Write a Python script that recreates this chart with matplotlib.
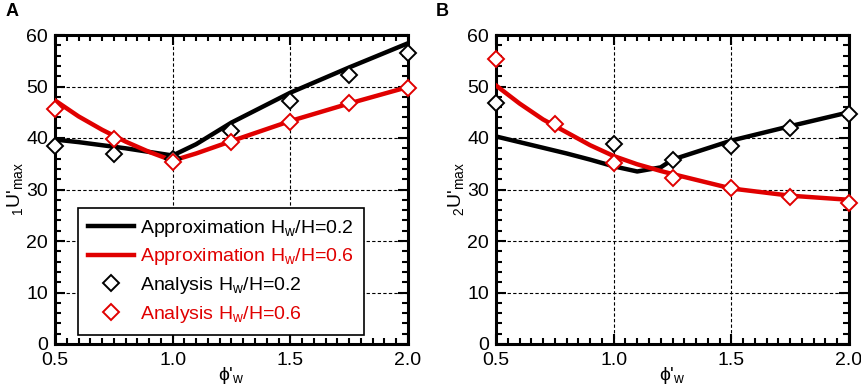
import matplotlib
matplotlib.use("Agg")
import matplotlib.pyplot as plt
from matplotlib.ticker import MultipleLocator

plt.rcParams['font.family'] = ['Liberation Sans', 'DejaVu Sans']
plt.rcParams['mathtext.fontset'] = 'custom'
plt.rcParams['mathtext.rm'] = 'Liberation Sans'
plt.rcParams['mathtext.it'] = 'Liberation Sans'

# panel A
a_line_x = [0.5, 0.6, 0.7, 0.8, 0.9, 1.0, 1.1, 1.25, 1.5, 1.75, 2.0]
a_black_line = [39.7, 39.2, 38.6, 38.0, 37.3, 36.6, 38.8, 43.0, 48.8, 53.7, 58.4]
a_red_line = [47.3, 44.2, 41.6, 39.3, 37.3, 35.6, 37.0, 39.4, 43.3, 46.7, 49.9]
a_pts_x = [0.5, 0.75, 1.0, 1.25, 1.5, 1.75, 2.0]
a_black_pts = [38.5, 36.8, 36.0, 41.3, 47.2, 52.2, 56.6]
a_red_pts = [45.7, 39.8, 35.3, 39.3, 43.2, 46.7, 49.8]

# panel B
b_line_x = [0.5, 0.6, 0.7, 0.8, 0.9, 1.0, 1.1, 1.2, 1.25, 1.5, 1.75, 2.0]
b_black_line = [40.3, 39.2, 38.1, 37.0, 35.8, 34.5, 33.5, 34.3, 35.8, 39.5, 42.3, 45.0]
b_red_line = [50.2, 46.7, 43.6, 41.1, 38.6, 36.5, 34.9, 33.6, 33.0, 30.2, 28.8, 28.0]
b_black_x = [0.5, 1.0, 1.25, 1.5, 1.75, 2.0]
b_black_pts = [46.8, 38.9, 35.7, 38.5, 41.9, 44.7]
b_red_x = [0.5, 0.75, 1.0, 1.25, 1.5, 1.75, 2.0]
b_red_pts = [55.3, 42.8, 35.2, 32.3, 30.2, 28.6, 27.3]

legend_labels = ['Approximation H$_\\mathrm{w}$/H=0.2', 'Approximation H$_\\mathrm{w}$/H=0.6',
                 'Analysis H$_\\mathrm{w}$/H=0.2', 'Analysis H$_\\mathrm{w}$/H=0.6']

RED = '#e00000'

fig = plt.figure(figsize=(8.61, 3.89), dpi=100)
axA = fig.add_axes([55/861, 45/389, 353/861, 309/389])
axB = fig.add_axes([496/861, 45/389, 353/861, 309/389])


def style(ax, sub):
    ax.set_xlim(0.5, 2.0)
    ax.set_ylim(0, 60)
    ax.xaxis.set_minor_locator(MultipleLocator(0.05))
    ax.yaxis.set_major_locator(MultipleLocator(10))
    ax.yaxis.set_minor_locator(MultipleLocator(2))
    ax.set_xticks([0.5, 1.0, 1.5, 2.0])
    ax.set_xticklabels(['0.5', '1.0', '1.5', '2.0'])
    ax.tick_params(which='both', direction='in', top=True, right=True, width=1.5)
    ax.tick_params(which='major', length=7, labelsize=14)
    ax.tick_params(axis='x', which='major', pad=6)
    ax.tick_params(axis='y', which='major', pad=5)
    ax.tick_params(which='minor', length=4)
    ax.grid(True, which='major', color='black', linestyle=(0, (3, 2)), linewidth=0.8)
    for s in ax.spines.values():
        s.set_linewidth(2.2)
    ax.set_xlabel("ϕ'$_\\mathrm{w}$", fontsize=14, labelpad=-3)
    ax.set_ylabel("$_\\mathrm{" + sub + "}$U'$_\\mathrm{max}$", fontsize=14, labelpad=1)


l1, = axA.plot(a_line_x, a_black_line, color='black', lw=3.2, zorder=3)
l2, = axA.plot(a_line_x, a_red_line, color=RED, lw=3.2, zorder=3)
m1, = axA.plot(a_pts_x, a_black_pts, ls='none', marker='D', ms=8, mfc='white', mec='black', mew=1.4,
               zorder=4, clip_on=False)
m2, = axA.plot(a_pts_x, a_red_pts, ls='none', marker='D', ms=8, mfc='white', mec=RED, mew=1.4,
               zorder=5, clip_on=False)
style(axA, '1')
leg = axA.legend([l1, l2, m1, m2], legend_labels, loc='lower right', bbox_to_anchor=(0.875, 0.03),
                 fontsize=14, frameon=True, fancybox=False, framealpha=1, edgecolor='black',
                 handlelength=2.4, handletextpad=0.3, borderpad=0.5, labelspacing=0.4,
                 borderaxespad=0)
leg.get_frame().set_linewidth(1.2)
leg.set_zorder(10)
for t, c in zip(leg.get_texts(), ['black', RED, 'black', RED]):
    t.set_color(c)

axB.plot(b_line_x, b_black_line, color='black', lw=3.2, zorder=3)
axB.plot(b_line_x, b_red_line, color=RED, lw=3.2, zorder=3)
axB.plot(b_black_x, b_black_pts, ls='none', marker='D', ms=8, mfc='white', mec='black', mew=1.4,
         zorder=4, clip_on=False)
axB.plot(b_red_x, b_red_pts, ls='none', marker='D', ms=8, mfc='white', mec=RED, mew=1.4,
         zorder=5, clip_on=False)
style(axB, '2')

fig.text(6/861, 1 - 12/389, 'A', fontsize=13, fontweight='bold', va='center')
fig.text(436/861, 1 - 12/389, 'B', fontsize=13, fontweight='bold', va='center')

fig.savefig('out.png', dpi=100)
